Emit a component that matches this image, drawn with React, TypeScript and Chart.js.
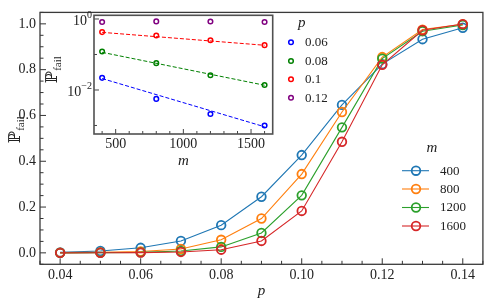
import React, { useEffect, useRef } from "react";
import { Chart, registerables } from "chart.js";
Chart.register(...registerables);

// ---------- data ----------
const pValues = [0.04, 0.05, 0.06, 0.07, 0.08, 0.09, 0.1, 0.11, 0.12, 0.13, 0.14];
const mValues = [400, 800, 1200, 1600];
const mLabels = ["400", "800", "1200", "1600"];
const fail400 = [0.002, 0.008, 0.022, 0.052, 0.121, 0.245, 0.427, 0.646, 0.824, 0.933, 0.983];
const fail800 = [0.001, 0.002, 0.0056, 0.017, 0.057, 0.15, 0.344, 0.615, 0.855, 0.975, 0.998];
const fail1200 = [0.0, 0.001, 0.0021, 0.008, 0.026, 0.087, 0.251, 0.548, 0.848, 0.968, 0.995];
const fail1600 = [0.0, 0.0005, 0.001, 0.004, 0.0138, 0.052, 0.183, 0.485, 0.821, 0.972, 0.999];
const mainColors = ["#1f77b4", "#ff7f0e", "#2ca02c", "#d62728"];

const xMajorTicks = [0.04, 0.06, 0.08, 0.1, 0.12, 0.14];
const xMinorTicks = [0.035, 0.045, 0.05, 0.055, 0.065, 0.07, 0.075, 0.085, 0.09, 0.095, 0.105, 0.11, 0.115, 0.125, 0.13, 0.135, 0.145];
const yMajorTicks = [0, 0.2, 0.4, 0.6, 0.8, 1.0];
const yMinorTicks = [-0.05, 0.05, 0.1, 0.15, 0.25, 0.3, 0.35, 0.45, 0.5, 0.55, 0.65, 0.7, 0.75, 0.85, 0.9, 0.95, 1.05];

const insetPValues = [0.06, 0.08, 0.1, 0.12];
const insetPLabels = ["0.06", "0.08", "0.1", "0.12"];
const insetColors = ["#0000ff", "#008000", "#ff0000", "#800080"];
const fitStart = [0.021, 0.115, 0.42];
const fitEnd = [0.00092, 0.0136, 0.182];
const insetXMajor = [500, 1000, 1500];
const insetXMinor = [400, 600, 700, 800, 900, 1100, 1200, 1300, 1400, 1600];
const insetYMajor = [1, 0.01];
const insetYMajorLabels = [["10", "0"], ["10", "\u22122"]];
const insetYMinor = [0.1, 0.001];

const seriesList = [fail400, fail800, fail1200, fail1600];
const SERIF = "'Liberation Serif', 'DejaVu Serif', serif";
const TEXT = "#222";

// ---------- helpers ----------
function drawPfail(ctx: CanvasRenderingContext2D, cx: number, baseX: number, cy: number) {
  ctx.save();
  ctx.translate(baseX, cy);
  ctx.rotate(-Math.PI / 2);
  ctx.fillStyle = TEXT;
  ctx.font = "16px 'DejaVu Serif', serif";
  const w1 = ctx.measureText("\u2119").width;
  ctx.font = `11px ${SERIF}`;
  const w2 = ctx.measureText("fail").width;
  const start = -(w1 + w2) / 2;
  ctx.textBaseline = "alphabetic";
  ctx.textAlign = "left";
  ctx.font = "16px 'DejaVu Serif', serif";
  ctx.fillText("\u2119", start, 0);
  ctx.font = `11px ${SERIF}`;
  ctx.fillText("fail", start + w1 + 0.5, 3.5);
  ctx.restore();
}

const innerTicksPlugin = {
  id: "innerTicks",
  afterDraw(chart: any, _a: any, opts: any) {
    const { ctx, chartArea: a, scales } = chart;
    const xs = scales.x, ys = scales.y;
    ctx.save();
    ctx.strokeStyle = opts.tickColor;
    ctx.lineWidth = opts.tickWidth;
    const dx = (vals: number[], len: number) =>
      vals.forEach((v) => {
        const px = xs.getPixelForValue(v);
        if (px < a.left - 0.5 || px > a.right + 0.5) return;
        ctx.beginPath();
        ctx.moveTo(px, a.bottom);
        ctx.lineTo(px, a.bottom - len);
        ctx.stroke();
      });
    const dy = (vals: number[], len: number) =>
      vals.forEach((v) => {
        const py = ys.getPixelForValue(v);
        if (py < a.top - 0.5 || py > a.bottom + 0.5) return;
        ctx.beginPath();
        ctx.moveTo(a.left, py);
        ctx.lineTo(a.left + len, py);
        ctx.stroke();
      });
    dx(opts.xMinor, opts.minorLen);
    dx(opts.xMajor, opts.majorLen);
    dy(opts.yMinor, opts.minorLen);
    dy(opts.yMajor, opts.majorLen);
    ctx.strokeStyle = opts.spineColor;
    ctx.lineWidth = opts.spineWidth;
    ctx.strokeRect(a.left, a.top, a.right - a.left, a.bottom - a.top);
    ctx.restore();
  },
};

const mainDecorPlugin = {
  id: "mainDecor",
  afterDraw(chart: any) {
    const ctx = chart.ctx as CanvasRenderingContext2D;
    ctx.save();
    // x title
    ctx.fillStyle = TEXT;
    ctx.font = `italic 15px ${SERIF}`;
    ctx.textAlign = "center";
    ctx.textBaseline = "middle";
    ctx.fillText("p", (chart.chartArea.left + chart.chartArea.right) / 2, 291);
    // y title
    drawPfail(ctx, 15, 20, 130);
    // legend
    ctx.font = `italic 15px ${SERIF}`;
    ctx.textAlign = "center";
    ctx.fillText("m", 432, 148);
    const rows = [170.7, 189, 207.5, 226];
    chart.data.datasets.forEach((ds: any, i: number) => {
      const y = rows[i];
      ctx.strokeStyle = ds.borderColor;
      ctx.lineWidth = 1.1;
      ctx.beginPath();
      ctx.moveTo(402, y);
      ctx.lineTo(429, y);
      ctx.stroke();
      ctx.lineWidth = 1.8;
      ctx.beginPath();
      ctx.arc(416, y, 4.3, 0, Math.PI * 2);
      ctx.stroke();
      ctx.fillStyle = TEXT;
      ctx.font = `13px ${SERIF}`;
      ctx.textAlign = "left";
      ctx.textBaseline = "middle";
      ctx.fillText(ds.label, 440, y + 0.5);
    });
    ctx.restore();
  },
};

const insetDecorPlugin = {
  id: "insetDecor",
  beforeDraw(chart: any) {
    const { ctx, chartArea: a } = chart;
    ctx.save();
    ctx.fillStyle = "#ffffff";
    ctx.fillRect(a.left, a.top, a.right - a.left, a.bottom - a.top);
    ctx.restore();
  },
  afterDraw(chart: any) {
    const ctx = chart.ctx as CanvasRenderingContext2D;
    const a = chart.chartArea;
    const ys = chart.scales.y;
    ctx.save();
    ctx.fillStyle = TEXT;
    // y tick labels (10^k)
    insetYMajor.forEach((v, i) => {
      const py = ys.getPixelForValue(v);
      const [base, sup] = insetYMajorLabels[i];
      ctx.font = `10px ${SERIF}`;
      const ws = ctx.measureText(sup).width;
      const right = a.left - 2;
      ctx.textAlign = "right";
      ctx.textBaseline = "alphabetic";
      ctx.fillText(sup, right, py - 1);
      ctx.font = `14px ${SERIF}`;
      ctx.fillText(base, right - ws, py + 6);
    });
    // x title
    ctx.font = `italic 15px ${SERIF}`;
    ctx.textAlign = "center";
    ctx.textBaseline = "middle";
    ctx.fillText("m", (a.left + a.right) / 2, 161);
    // y title
    drawPfail(ctx, 52, 57, 70);
    // legend
    ctx.font = `italic 15px ${SERIF}`;
    ctx.fillText("p", 301.7, 23);
    const rows = [42.3, 61, 79.3, 97.7];
    insetPLabels.forEach((lab, i) => {
      const y = rows[i];
      ctx.strokeStyle = insetColors[i];
      ctx.lineWidth = 1.5;
      ctx.beginPath();
      ctx.arc(291, y, 2.3, 0, Math.PI * 2);
      ctx.stroke();
      ctx.fillStyle = TEXT;
      ctx.font = `13px ${SERIF}`;
      ctx.textAlign = "left";
      ctx.textBaseline = "middle";
      ctx.fillText(lab, 305, y + 0.5);
    });
    ctx.restore();
  },
};

export default function App() {
  const mainRef = useRef<HTMLCanvasElement>(null);
  const insetRef = useRef<HTMLCanvasElement>(null);

  useEffect(() => {
    const mainChart = new Chart(mainRef.current!, {
      type: "line",
      data: {
        datasets: seriesList.map((s, i) => ({
          label: mLabels[i],
          data: pValues.map((p, j) => ({ x: p, y: s[j] })),
          borderColor: mainColors[i],
          backgroundColor: mainColors[i],
          borderWidth: 1.1,
          pointRadius: 4.3,
          pointBorderWidth: 1.8,
          pointBackgroundColor: "rgba(0,0,0,0)",
          pointBorderColor: mainColors[i],
          tension: 0,
          order: 3 - i,
          clip: false as any,
        })),
      },
      options: {
        responsive: false,
        animation: false,
        events: [],
        layout: { padding: { left: 0, top: 2.7, right: 3, bottom: 0 } },
        plugins: {
          legend: { display: false },
          tooltip: { enabled: false },
          innerTicks: {
            xMajor: xMajorTicks, xMinor: xMinorTicks, yMajor: yMajorTicks, yMinor: yMinorTicks,
            majorLen: 6, minorLen: 3.5, tickColor: "#333", tickWidth: 1,
            spineColor: "#3a3a3a", spineWidth: 1.3,
          },
        } as any,
        scales: {
          x: {
            type: "linear",
            min: 0.035,
            max: 0.145,
            grid: { display: false, drawTicks: false },
            border: { display: false },
            ticks: {
              padding: 3,
              color: TEXT,
              font: { family: SERIF, size: 14 },
              maxRotation: 0,
              autoSkip: false,
              callback: (v: any) => Number(v).toFixed(2),
            },
            afterBuildTicks: (s: any) => { s.ticks = xMajorTicks.map((v) => ({ value: v })); },
            afterFit: (s: any) => { s.height = 37.7; },
          },
          y: {
            type: "linear",
            min: -0.05,
            max: 1.05,
            grid: { display: false, drawTicks: false },
            border: { display: false },
            ticks: {
              padding: 4,
              color: TEXT,
              font: { family: SERIF, size: 14 },
              autoSkip: false,
              callback: (v: any) => Number(v).toFixed(1),
            },
            afterBuildTicks: (s: any) => { s.ticks = yMajorTicks.map((v) => ({ value: v })); },
            afterFit: (s: any) => { s.width = 40; },
          },
        },
      },
      plugins: [innerTicksPlugin, mainDecorPlugin],
    });

    const insetDatasets: any[] = [];
    fitStart.forEach((v, k) => {
      insetDatasets.push({
        data: [{ x: mValues[0], y: v }, { x: mValues[mValues.length - 1], y: fitEnd[k] }],
        borderColor: insetColors[k],
        borderWidth: 1,
        borderDash: [4, 2],
        pointRadius: 0,
        tension: 0,
        order: 5,
      });
    });
    insetPValues.forEach((p, k) => {
      const j = pValues.indexOf(p);
      insetDatasets.push({
        data: mValues.map((m, i) => ({ x: m, y: seriesList[i][j] })),
        showLine: false,
        borderColor: insetColors[k],
        backgroundColor: insetColors[k],
        pointRadius: 2.3,
        pointBorderWidth: 1.5,
        pointBackgroundColor: "rgba(0,0,0,0)",
        pointBorderColor: insetColors[k],
        order: 0,
      });
    });

    const insetChart = new Chart(insetRef.current!, {
      type: "line",
      data: { datasets: insetDatasets },
      options: {
        responsive: false,
        animation: false,
        events: [],
        layout: { padding: { left: 0, top: 15.3, right: 216.3, bottom: 138 } },
        plugins: {
          legend: { display: false },
          tooltip: { enabled: false },
          innerTicks: {
            xMajor: insetXMajor, xMinor: insetXMinor, yMajor: insetYMajor, yMinor: insetYMinor,
            majorLen: 5, minorLen: 3, tickColor: "#444", tickWidth: 1,
            spineColor: "#505050", spineWidth: 1.6,
          },
        } as any,
        scales: {
          x: {
            type: "linear",
            min: 340,
            max: 1660,
            grid: { display: false, drawTicks: false },
            border: { display: false },
            ticks: {
              padding: 2,
              color: TEXT,
              font: { family: SERIF, size: 14 },
              maxRotation: 0,
              autoSkip: false,
              callback: (v: any) => String(v),
            },
            afterBuildTicks: (s: any) => { s.ticks = insetXMajor.map((v) => ({ value: v })); },
            afterFit: (s: any) => { s.height = 30; },
          },
          y: {
            type: "logarithmic",
            min: Math.pow(10, -3.24),
            max: Math.pow(10, 0.104),
            grid: { display: false, drawTicks: false },
            border: { display: false },
            ticks: { display: false },
            afterBuildTicks: (s: any) => { s.ticks = insetYMajor.map((v) => ({ value: v })); },
            afterFit: (s: any) => { s.width = 94; },
          },
        },
      },
      plugins: [innerTicksPlugin, insetDecorPlugin],
    });

    return () => {
      mainChart.destroy();
      insetChart.destroy();
    };
  }, []);

  return (
    <div style={{ position: "fixed", left: 0, top: 0, width: 489, height: 302, background: "#fff" }}>
      <canvas ref={mainRef} width={489} height={302} style={{ position: "absolute", left: 0, top: 0 }} />
      <canvas ref={insetRef} width={489} height={302} style={{ position: "absolute", left: 0, top: 0 }} />
    </div>
  );
}
